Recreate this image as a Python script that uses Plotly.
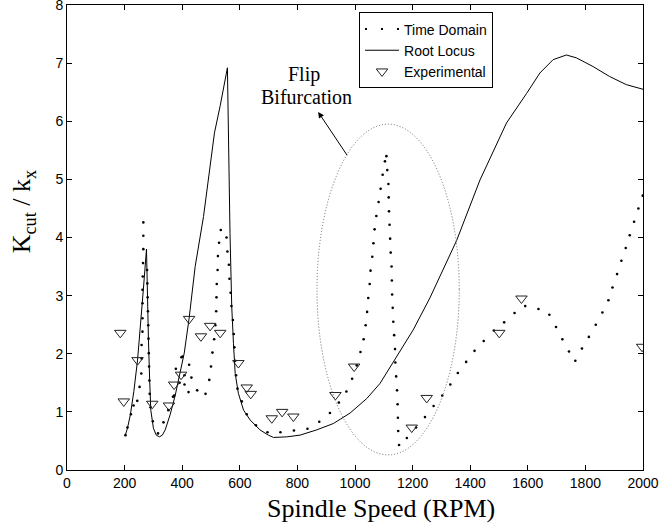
import plotly.graph_objects as go

# ---------------- data ----------------
td_rpm = [203, 210, 222, 231, 244, 252, 258, 259, 259, 262, 262, 262, 262, 263, 264, 265, 265, 265,
          278, 279, 280, 281, 282, 283, 284, 285, 286, 287, 290, 298, 316, 335, 352, 368,
          372, 378, 391, 397, 401, 408, 408, 424, 432, 422, 452, 481, 494, 500, 505, 511, 515,
          518, 519, 520, 523, 524, 528, 534,
          554, 557, 562, 564, 568, 571, 576, 579, 581, 584, 587, 592, 607, 624, 656, 696, 741,
          788, 835, 876, 913, 944, 970, 990, 1006, 1019, 1030, 1037, 1042, 1046, 1051, 1054,
          1060, 1064, 1068, 1074, 1082, 1089, 1096, 1104, 1109,
          1112, 1116, 1117, 1118, 1120, 1122, 1124, 1127, 1128, 1129, 1131, 1133, 1136, 1139,
          1140, 1143, 1146, 1148, 1149, 1150, 1153,
          1180, 1212, 1243, 1273, 1303, 1331, 1357, 1386, 1415, 1447, 1482, 1518, 1554, 1591,
          1637, 1675, 1698, 1720, 1743, 1765, 1788, 1812, 1836, 1859, 1880, 1894, 1910, 1925,
          1940, 1954, 1969, 1984, 1999]
td_k = [0.60, 0.73, 0.96, 1.11, 1.19, 1.43, 1.66, 1.92, 2.15, 2.38, 2.61, 2.87, 3.10, 3.33, 3.56, 3.80, 4.03, 4.26,
        3.44, 3.21, 2.97, 2.73, 2.49, 2.26, 2.01, 1.78, 1.54, 1.31, 1.08, 0.84, 0.63, 0.82, 1.03, 1.26,
        1.28, 1.74, 1.50, 1.94, 1.95, 1.63, 1.47, 1.81, 1.59, 1.34, 1.37, 1.31, 1.55, 1.78, 2.02, 2.25, 2.49,
        2.73, 2.97, 3.20, 3.44, 3.68, 3.91, 4.13,
        4.00, 3.76, 3.53, 3.29, 3.05, 2.82, 2.58, 2.34, 2.11, 1.88, 1.63, 1.40, 1.18, 0.96, 0.77, 0.65, 0.65,
        0.68, 0.71, 0.83, 0.98, 1.16, 1.35, 1.57, 1.80, 2.03, 2.25, 2.49, 2.72, 2.96, 3.20, 3.43,
        3.67, 3.90, 4.14, 4.37, 4.61, 4.84, 5.08, 5.31, 5.40,
        5.16, 4.92, 4.69, 4.45, 4.22, 3.98, 3.74, 3.50, 3.26, 3.02, 2.79, 2.55, 2.32, 2.08,
        1.85, 1.61, 1.37, 1.13, 0.90, 0.67, 0.43,
        0.55, 0.73, 0.91, 1.10, 1.28, 1.47, 1.67, 1.86, 2.05, 2.22, 2.40, 2.54, 2.70, 2.82,
        2.77, 2.67, 2.46, 2.25, 2.04, 1.88, 2.09, 2.29, 2.50, 2.71, 2.92, 3.14, 3.37, 3.60,
        3.82, 4.04, 4.27, 4.50, 4.72]

rl_rpm = [202, 210, 220, 232, 245, 255, 265, 276, 279, 283, 287, 291, 300, 310, 321, 331, 341, 358,
          376, 393, 407, 424, 445, 474, 512, 532, 557, 566, 572, 578, 584, 595, 613, 636, 670, 699,
          717, 763, 809, 867, 925, 983, 1041, 1087, 1145, 1202, 1260, 1353, 1434, 1526, 1596,
          1642, 1688, 1734, 1769, 1827, 1884, 1942, 2000]
rl_k = [0.59, 0.72, 0.95, 1.35, 1.89, 2.45, 3.10, 3.80, 3.00, 2.20, 1.55, 1.03, 0.72, 0.60, 0.57, 0.60, 0.69, 0.95,
        1.29, 1.66, 2.01, 2.61, 3.50, 4.36, 5.80, 6.27, 6.92, 4.07, 2.81, 2.18, 1.66, 1.32, 1.03, 0.86, 0.69, 0.60,
        0.56, 0.57, 0.60, 0.69, 0.80, 0.98, 1.23, 1.49, 1.95, 2.41, 2.96, 3.95, 4.99, 5.97, 6.48,
        6.83, 7.06, 7.14, 7.09, 6.94, 6.77, 6.63, 6.55]

exp_rpm = [185, 197, 245, 296, 354, 372, 396, 424, 465, 497, 532, 595, 624, 638, 711, 747, 786,
           932, 997, 1197, 1249, 1501, 1578, 1997]
exp_k = [2.36, 1.18, 1.89, 1.14, 1.11, 1.47, 1.64, 2.60, 2.30, 2.48, 2.36, 1.84, 1.42, 1.31, 0.89, 1.00, 0.92,
         1.29, 1.78, 0.73, 1.24, 2.36, 2.95, 2.12]

x_ticks = [0, 200, 400, 600, 800, 1000, 1200, 1400, 1600, 1800, 2000]
y_ticks = [0, 1, 2, 3, 4, 5, 6, 7, 8]

# annotation geometry (data units)
ellipse_box = dict(x0=868, x1=1362, y0=0.26, y1=5.95)
arrow_head = (872, 6.16)
arrow_tail = (976, 5.39)
flip_pos = (823, 6.80)
bif_pos = (830, 6.42)

serif = "Liberation Serif, Times New Roman, serif"
sans = "Liberation Sans, Arial, sans-serif"

fig = go.Figure()

fig.add_trace(go.Scatter(x=td_rpm, y=td_k, mode="markers", showlegend=False,
                         marker=dict(color="black", size=2.6), name="Time Domain"))
# legend-only entry showing the dotted style
fig.add_trace(go.Scatter(x=[None], y=[None], mode="lines", name="Time Domain",
                         line=dict(color="black", width=2, dash="2px,14px")))
fig.add_trace(go.Scatter(x=rl_rpm, y=rl_k, mode="lines", name="Root Locus",
                         line=dict(color="black", width=1)))
fig.add_trace(go.Scatter(x=exp_rpm, y=exp_k, mode="markers", name="Experimental",
                         marker=dict(symbol="triangle-down-open", size=10, color="#222",
                                     line=dict(width=1, color="#222"))))

fig.add_shape(type="circle", xref="x", yref="y", **ellipse_box,
              line=dict(color="#666", width=1, dash="1px,2px"))

fig.add_annotation(x=arrow_head[0], y=arrow_head[1], ax=arrow_tail[0], ay=arrow_tail[1],
                   xref="x", yref="y", axref="x", ayref="y", text="", showarrow=True,
                   arrowhead=2, arrowsize=1.2, arrowwidth=1, arrowcolor="black")
fig.add_annotation(x=flip_pos[0], y=flip_pos[1], text="Flip", showarrow=False,
                   font=dict(family=serif, size=20, color="black"))
fig.add_annotation(x=bif_pos[0], y=bif_pos[1], text="Bifurcation", showarrow=False,
                   font=dict(family=serif, size=20, color="black"))

# axis titles
fig.add_annotation(x=0.545, y=-0.082, xref="paper", yref="paper", text="Spindle Speed (RPM)",
                   showarrow=False, xanchor="center", yanchor="middle",
                   font=dict(family=serif, size=26, color="black"))
fig.add_annotation(x=-0.075, y=0.556, xref="paper", yref="paper",
                   text="K<sub>cut</sub> / k<sub>x</sub>", textangle=-90,
                   showarrow=False, xanchor="center", yanchor="middle",
                   font=dict(family=serif, size=26, color="black"))

axis_common = dict(showline=True, linecolor="black", linewidth=1, mirror="ticks",
                   ticks="inside", ticklen=5, tickcolor="black", tickwidth=1,
                   showgrid=False, zeroline=False, ticklabeloverflow="allow",
                   automargin=False,
                   tickfont=dict(family=sans, size=14, color="black"))

fig.update_xaxes(range=[0, 2000], tickvals=x_ticks, ticktext=[str(v) for v in x_ticks], **axis_common)
fig.update_yaxes(range=[0, 8], tickvals=y_ticks, ticktext=[str(v) for v in y_ticks], **axis_common)

fig.update_layout(
    width=660, height=531,
    margin=dict(l=67, r=17, t=5, b=61, autoexpand=False),
    plot_bgcolor="white", paper_bgcolor="white",
    legend=dict(x=0.507, y=0.984, xanchor="left", yanchor="top",
                bgcolor="white", bordercolor="black", borderwidth=1,
                font=dict(family=sans, size=14, color="black"),
                tracegroupgap=0, itemwidth=34),
)

fig.write_html("out.html", config={"displayModeBar": False},
               post_script="document.body.style.margin='0';document.body.style.overflow='hidden';")
